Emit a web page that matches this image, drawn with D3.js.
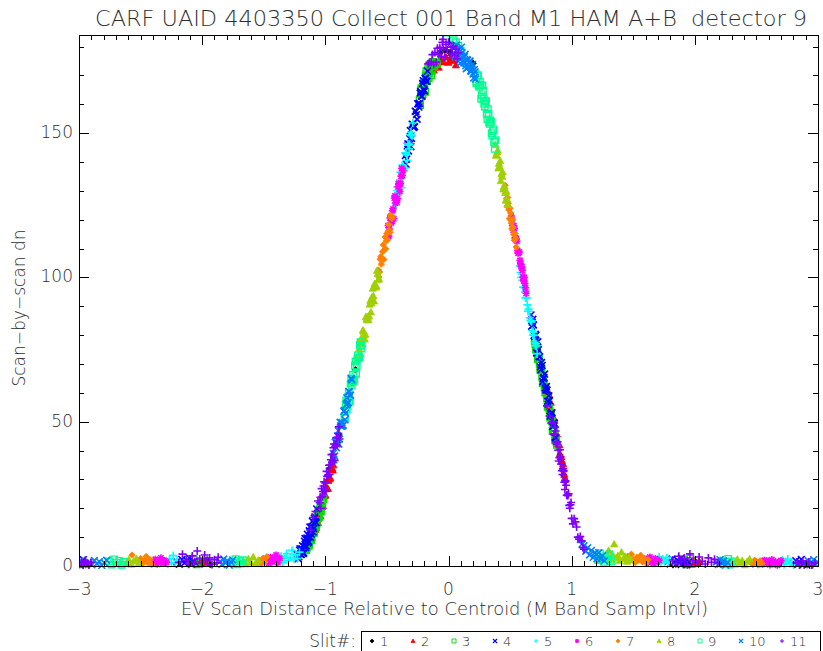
<!DOCTYPE html>
<html><head><meta charset="utf-8">
<script src="https://cdn.jsdelivr.net/npm/d3@7"></script>
<style>
body{margin:0;background:#fff}
svg{display:block}
text{font-family:"DejaVu Sans","Liberation Sans",sans-serif;font-weight:200;fill:#2e2e2e}
</style>
</head><body>
<svg id="chart" width="823" height="651"></svg>
<script>
// ---- text ----
const titleText = "CARF UAID 4403350 Collect 001 Band M1 HAM A+B  detector 9";
const xTitle = "EV Scan Distance Relative to Centroid (M Band Samp Intvl)";
const yTitle = "Scan\u2212by\u2212scan dn";
const legendTitle = "Slit#:";

// ---- axes ----
const xDomain = [-3, 3];
const yDomain = [0, 184];
const xTicks = [-3, -2, -1, 0, 1, 2, 3];
const yTicks = [0, 50, 100, 150];

// ---- per-slit samples: [distance, dn] ----
const slitIds = [1, 2, 3, 4, 5, 6, 7, 8, 9, 10, 11];

const slit01 = [[-1.99,1.0],[-1.96,2.2],[-1.935,0.5],
  [-0.965,33.8],[-0.94,36.5],[-0.915,42],[-0.89,45.5],[-0.785,63.5],[-0.755,68],
  [-0.07,177.8],[-0.03,178.7],[0.01,178.0],[0.20,174.2],[0.905,38.5],[0.935,31.5],
  [2.005,1.3],[2.03,0.6]];

const slit02 = [[-2.045,1.5],[-2.02,0.7],[-1.995,2.1],[-1.97,1.2],
  [-1.085,14],[-1.075,14.4],[-1.065,16.8],[-1.055,16.7],[-1.045,19.1],[-1.035,20],[-1.025,20.6],[-1.015,24.2],
  [-1.005,24.3],[-0.995,26.9],[-0.985,27],[-0.975,29.6],[-0.965,30.2],[-0.955,33.3],[-0.945,33.9],[-0.935,35],
  [-1.08,12.7],[-1.07,16.1],[-1.06,15],[-1.05,18.4],[-1.04,17.3],[-1.03,20.8],[-1.02,20.9],[-1.01,25],
  [-1.00,24.6],[-0.99,27.2],[-0.98,26.8],[-0.97,30.9],[-0.96,30.5],[-0.95,33.6],[-0.94,33.2],
  [-0.14,171.6],[-0.12,171.8],[-0.10,173.5],[-0.08,172.8],[-0.06,175.6],[-0.04,174.6],[-0.02,176.3],[0.00,174.5],
  [0.02,175.8],[0.04,175.1],[0.06,173.6],
  [0.80,61],[0.81,60.4],[0.82,56.8],[0.83,56.7],[0.84,53.1],[0.85,51.5],[0.86,50.4],[0.87,46.3],[0.88,45.7],
  [0.89,42.6],[0.90,42],[0.91,37.8],[0.92,36.6],[0.93,35.4],[0.94,31.7],[0.95,30],
  [0.805,60.1],[0.815,59.5],[0.825,54.9],[0.835,54.2],[0.845,51.3],[0.855,51.2],[0.865,46.1],[0.875,45.8],
  [0.885,42.5],[0.895,41.9],[0.905,38.8],[0.915,37.9],[0.925,34.2],[0.935,33.6],[0.945,30.5],
  [1.955,1.4],[1.975,0.6],[1.995,2.0],[2.015,1.1],[2.035,1.7]];

const slit03 = [[-2.095,1.1],[-2.07,2.4],[-2.045,0.6],[-2.02,1.8],
  [-1.165,5.6],[-1.155,5.4],[-1.145,7.7],[-1.135,7],[-1.125,9.2],[-1.115,8.9],[-1.105,11.6],[-1.095,11.8],
  [-1.085,13.5],[-1.075,13.4],[-1.065,16.8],[-1.055,16.7],[-1.045,19.6],[-1.035,19],[-1.025,22.1],[-1.015,23.2],
  [-1.16,6],[-1.15,6.3],[-1.14,8.5],[-1.13,7.5],[-1.12,10],[-1.11,10],[-1.10,12.5],[-1.09,11.5],
  [-1.08,14.2],[-1.07,14.8],[-1.06,17.8],[-1.05,17.2],[-1.04,20.2],[-1.03,20.8],[-1.02,23.8],
  [-0.235,161.4],[-0.225,164.8],[-0.215,163.2],[-0.205,167.1],[-0.195,166.5],[-0.185,170],[-0.175,168],
  [-0.165,172.5],[-0.155,171],[-0.145,174],[-0.135,171.6],[-0.125,174.7],[-0.115,173.3],[-0.105,176.4],[-0.095,174],
  [-0.23,159.7],[-0.22,165.6],[-0.21,163.5],[-0.20,167.4],[-0.19,164.3],[-0.18,171.5],[-0.17,169.5],
  [-0.16,169],[-0.15,173.5],[-0.14,170],[-0.13,174.3],[-0.12,173.4],[-0.11,176.5],[-0.10,174.1],
  [0.70,78],[0.71,75],[0.72,74.5],[0.73,72.5],[0.74,70],[0.75,68.5],[0.76,65.5],[0.77,65],[0.78,62],[0.79,61.5],
  [0.80,58],[0.81,57],[0.82,54],[0.83,53],[0.84,50],[0.85,48],[0.86,46.5],[0.87,44.5],[0.88,42],
  [0.705,76.8],[0.715,76.3],[0.725,71.7],[0.735,71.6],[0.745,68],[0.755,68],[0.765,63.4],[0.775,63.3],
  [0.785,60.2],[0.795,59.7],[0.805,55.1],[0.815,55],[0.825,51.4],[0.835,51.4],[0.845,46.8],[0.855,46.7],
  [0.865,43.6],[0.875,43.1],
  [1.885,1.3],[1.905,2.2],[1.925,0.6],[1.945,1.8],[1.965,2.6],[1.985,1.0]];

const slit04 = [[-2.995,0.4],[-2.98,1.5],[-2.965,2.2],[-2.95,0.8],
  [-2.205,1.4],[-2.185,0.6],[-2.165,2.3],[-2.145,1.0],[-2.125,1.9],[-2.105,2.8],[-2.085,0.7],[-2.065,1.6],
  [-1.23,4],[-1.22,2.5],[-1.21,5.5],[-1.20,4],[-1.19,6],[-1.18,4.3],[-1.17,8.6],[-1.16,6.4],[-1.15,9.7],[-1.14,8],
  [-1.13,12.2],[-1.12,9.9],[-1.11,13.6],[-1.10,11.8],[-1.09,16.5],[-1.08,15.4],[-1.07,19.8],
  [-1.225,4],[-1.215,3.2],[-1.205,6],[-1.195,4],[-1.185,7],[-1.175,4.5],[-1.165,9.5],[-1.155,7],
  [-1.145,11],[-1.135,8.5],[-1.125,13.5],[-1.115,11],[-1.105,15.5],[-1.095,13],[-1.085,17],[-1.075,15],
  [-0.35,142.2],[-0.34,141],[-0.33,146.3],[-0.32,145.6],[-0.31,150.9],[-0.30,148.2],[-0.29,153],[-0.28,152.3],
  [-0.27,157.6],[-0.26,156.4],[-0.25,160.2],[-0.24,159],[-0.23,163.9],[-0.22,162.8],[-0.21,167.2],[-0.20,165.1],
  [-0.19,169],[-0.18,168],[-0.17,171.5],
  [-0.345,139.2],[-0.335,145.5],[-0.325,143.8],[-0.315,148.1],[-0.305,145.3],[-0.295,153.1],[-0.285,151.9],
  [-0.275,152.2],[-0.265,157.5],[-0.255,154.8],[-0.245,160.1],[-0.235,160.3],[-0.225,164.4],[-0.215,162.8],
  [-0.205,168.2],[-0.195,164.6],[-0.185,169],[-0.175,168],
  [0.67,87],[0.68,84.5],[0.69,83.5],[0.70,79.5],[0.71,80],[0.72,74],[0.73,75],[0.74,72.5],[0.75,68],[0.76,69.5],
  [0.77,65],[0.78,66.5],[0.79,61],[0.80,61],[0.81,56],[0.82,57.3],[0.83,52.7],[0.84,53.1],[0.85,48.5],[0.86,49.4],[0.87,44.3],
  [0.675,83.1],[0.685,85.5],[0.695,79.9],[0.705,80.3],[0.715,73.8],[0.725,77.7],[0.735,72.6],[0.745,69],
  [0.755,70.5],[0.765,63.9],[0.775,65.3],[0.785,61.7],[0.795,62.2],[0.805,57.1],[0.815,59],[0.825,51.9],
  [0.835,52.9],[0.845,48.3],[0.855,49.7],[0.865,44.6],
  [1.785,1.6],[1.80,0.7],[1.815,2.4],[1.83,1.3],[1.845,0.5],[1.86,2.0],[1.875,1.1],[1.89,2.8],[1.905,0.9],[1.92,1.7],
  [1.935,0.4],[1.95,1.4],
  [2.805,0.9],[2.82,1.8],[2.835,0.5],[2.85,1.4],[2.865,2.3],[2.88,0.7],[2.895,1.2],[2.91,0.3]];

const slit05 = [[-2.295,1.6],[-2.28,0.7],[-2.265,2.5],[-2.25,1.2],[-2.235,3.6],[-2.22,0.9],[-2.205,2.0],
  [-1.375,2.0],[-1.36,3.4],[-1.345,1.1],[-1.33,2.7],[-1.315,4.3],[-1.30,1.8],[-1.285,3.0],[-1.27,5.4],[-1.255,2.3],
  [-1.24,3.9],[-1.225,2.6],[-1.21,4.8],
  [-0.43,125.8],[-0.42,130.1],[-0.41,128.4],[-0.40,133.2],[-0.39,136.5],[-0.38,134.3],[-0.37,138.6],[-0.36,136.9],
  [-0.35,143.2],[-0.34,142.5],[-0.33,146.3],[-0.32,144.6],[-0.31,149.4],[-0.30,149.2],[-0.29,153.5],
  [-0.425,125],[-0.415,131.3],[-0.405,129.5],[-0.395,133.8],[-0.385,131.1],[-0.375,138.9],[-0.365,137.7],
  [-0.355,137.9],[-0.345,143.2],[-0.335,140.5],[-0.325,145.8],[-0.315,146.1],[-0.305,150.3],[-0.295,149.1],
  [0.58,104],[0.59,100],[0.60,99],[0.61,96.5],[0.62,95],[0.63,93],[0.64,90.5],[0.65,89],[0.66,86],[0.67,85],
  [0.68,81.5],[0.69,81],[0.70,77.5],[0.71,77],[0.72,73.5],
  [0.585,101.7],[0.595,101.2],[0.605,96.6],[0.615,96.5],[0.625,92.9],[0.635,92.9],[0.645,88.3],[0.655,88.2],
  [0.665,85.1],[0.675,84.6],[0.685,80],[0.695,79.9],[0.705,76.3],[0.715,76.3],
  [1.695,1.8],[1.71,3.2],[1.725,0.9],[1.74,2.4],[1.755,1.5],[1.77,2.9],[1.785,1.1],[1.80,2.0],
  [2.695,1.1],[2.71,2.0],[2.725,0.5],[2.74,1.6],[2.755,2.4],[2.77,0.8],[2.785,1.3],[2.80,0.4]];

const slit06 = [[-2.395,1.0],[-2.38,2.3],[-2.365,0.6],[-2.35,1.6],[-2.335,2.8],[-2.32,0.9],[-2.305,1.9],[-2.29,1.3],
  [-1.475,2.1],[-1.46,0.9],[-1.445,3.0],[-1.43,1.5],[-1.415,2.5],[-1.40,3.8],[-1.385,1.2],[-1.37,2.7],
  [-0.49,118],[-0.48,116.8],[-0.47,121.1],[-0.46,119.4],[-0.45,123.7],[-0.44,127.5],[-0.43,125.8],[-0.42,126.1],
  [-0.41,131.4],[-0.40,132.2],[-0.39,132.5],[-0.38,137.8],[-0.37,137.1],
  [-0.485,114.3],[-0.475,120.6],[-0.465,118.9],[-0.455,123.1],[-0.445,120.4],[-0.435,128.2],[-0.425,127],
  [-0.415,127.3],[-0.405,132.5],[-0.395,129.8],[-0.385,135.1],[-0.375,135.4],
  [0.51,121.3],[0.52,117.9],[0.53,117.9],[0.54,113.7],[0.55,113.5],[0.56,109.3],[0.57,108.6],[0.58,105.9],
  [0.59,103.7],[0.60,102.5],[0.61,98.8],[0.62,98],[0.63,94.5],
  [0.515,119.9],[0.525,116.4],[0.535,116.9],[0.545,113],[0.555,112.5],[0.565,108.4],[0.575,108.8],
  [0.585,104.7],[0.595,103.7],[0.605,100.1],[0.615,100],[0.625,96.4],
  [1.605,2.4],[1.62,1.2],[1.635,3.1],[1.65,1.7],[1.665,0.8],[1.68,2.6],[1.695,1.4],[1.71,2.0],
  [2.535,1.3],[2.55,0.6],[2.565,2.0],[2.58,1.1],[2.595,1.7],[2.61,0.4],[2.625,2.2],[2.64,0.9],[2.655,1.5],
  [2.67,0.3],[2.685,1.2],[2.70,1.9]];

const slit07 = [[-2.515,1.4],[-2.50,2.6],[-2.485,0.7],[-2.47,1.9],[-2.455,3.3],[-2.44,1.1],[-2.425,2.3],[-2.41,0.5],
  [-2.57,3.8],
  [-1.535,1.9],[-1.52,0.8],[-1.505,2.7],[-1.49,1.4],[-1.475,3.2],
  [-0.57,102.6],[-0.56,101.9],[-0.55,107.2],[-0.54,106.5],[-0.53,111.3],[-0.52,109.6],[-0.51,109.9],[-0.50,115.2],
  [-0.49,116],[-0.48,116.3],[-0.47,121.6],[-0.46,120.4],
  [-0.565,100.1],[-0.555,106.3],[-0.545,104.6],[-0.535,108.9],[-0.525,106.2],[-0.515,114],[-0.505,112.7],
  [-0.495,113],[-0.485,118.3],[-0.475,115.6],[-0.465,120.9],[-0.455,121.1],
  [0.46,131.9],[0.47,127.3],[0.48,127.7],[0.49,123.4],[0.50,124],[0.51,118.8],[0.52,120.1],[0.53,114.9],
  [0.54,115.2],[0.55,110.5],
  [0.465,129.2],[0.475,124.7],[0.485,125.7],[0.495,120.3],[0.505,122.3],[0.515,116.9],[0.525,117.4],
  [0.535,112.9],[0.545,113.5],
  [1.455,3.4],[1.47,1.8],[1.485,4.1],[1.50,2.3],[1.515,1.2],[1.53,3.0],[1.545,2.0],[1.56,3.7],[1.575,1.4],
  [1.59,2.6],[1.605,1.0],[1.62,2.2],
  [2.455,1.2],[2.47,0.5],[2.485,2.0],[2.50,1.5],[2.515,0.3],[2.53,1.8],[2.545,0.9]];

const slit08 = [[-2.615,1.1],[-2.595,2.2],[-2.575,0.6],[-2.555,1.7],[-2.535,2.6],[-2.515,0.9],
  [-1.665,1.8],[-1.645,0.7],[-1.625,2.5],[-1.605,1.3],[-1.585,3.1],[-1.565,1.0],[-1.545,2.0],
  [-0.725,75.3],[-0.715,73.6],[-0.705,77.9],[-0.695,81.7],[-0.685,80],[-0.675,80.3],[-0.665,85.6],[-0.655,86.4],
  [-0.645,86.7],[-0.635,92],[-0.625,91.1],[-0.615,96.2],[-0.605,91.8],[-0.595,97.4],[-0.585,97],[-0.575,101.3],[-0.565,99.6],
  [-0.72,72.5],[-0.71,78.8],[-0.70,77],[-0.69,81.3],[-0.68,78.6],[-0.67,86.4],[-0.66,85.2],[-0.65,85.4],
  [-0.64,90.7],[-0.63,88],[-0.62,93.3],[-0.61,93.6],[-0.60,97.8],[-0.59,96.6],[-0.58,102.4],[-0.57,99.2],
  [0.38,146],[0.39,142.5],[0.40,144],[0.41,139.5],[0.42,140.4],[0.43,135.9],[0.44,136.5],[0.45,131.5],
  [0.46,129.4],[0.47,129.8],[0.48,125.2],
  [0.385,142.3],[0.395,143.4],[0.405,137.9],[0.415,138.5],[0.425,133.5],[0.435,135],[0.445,130.6],
  [0.455,131.6],[0.465,126.7],[0.475,127.2],
  [1.285,3.1],[1.30,5.4],[1.315,2.2],[1.33,4.0],[1.345,7.6],[1.36,2.8],[1.375,3.6],[1.39,1.9],[1.405,4.8],
  [1.42,2.5],[1.435,3.3],[1.45,1.6],[1.465,2.9],[1.48,2.1],
  [2.305,1.5],[2.325,0.6],[2.345,2.3],[2.365,1.2],[2.385,1.9],[2.405,0.4],[2.425,1.6],[2.445,2.4]];

const slit09 = [[-2.755,1.6],[-2.735,0.5],[-2.715,2.3],[-2.695,1.1],[-2.675,1.8],[-2.655,0.4],[-2.635,1.4],
  [-1.745,1.2],[-1.73,2.4],[-1.715,0.6],[-1.70,1.7],[-1.685,0.9],[-1.67,2.0],
  [-0.845,51.4],[-0.835,56],[-0.825,54.3],[-0.815,58.6],[-0.805,56.9],[-0.795,63.2],[-0.785,62.5],[-0.775,66.3],
  [-0.765,64.6],[-0.755,70.9],[-0.745,69.2],[-0.735,73],[-0.725,72.3],[-0.715,77.6],[-0.705,76.4],
  [-0.84,51.2],[-0.83,57.4],[-0.82,55.7],[-0.81,60],[-0.80,57.2],[-0.79,65],[-0.78,63.8],[-0.77,64.1],
  [-0.76,69.4],[-0.75,66.6],[-0.74,71.9],[-0.73,72.2],[-0.72,76.5],[-0.71,75.3],
  [-0.02,182.6],[0.04,182.2],[0.06,181.5],[0.08,180.3],[0.10,178.6],
  [0.22,170.7],[0.23,167.8],[0.24,170],[0.25,166],[0.26,166.6],[0.27,163.2],[0.28,164.8],[0.29,160.1],[0.30,161],
  [0.31,156.7],[0.32,158.3],[0.33,153.6],[0.34,154.3],[0.35,150],[0.36,150.7],[0.37,147],[0.38,147.6],
  [0.225,167.3],[0.235,170],[0.245,166.5],[0.255,167.8],[0.265,161.9],[0.275,166.5],[0.285,162.1],
  [0.295,159.2],[0.305,161.1],[0.315,154.8],[0.325,156.5],[0.335,153.2],[0.345,153.9],[0.355,149.1],
  [0.365,151.3],[0.375,144.5],
  [1.20,3.6],[1.215,2.0],[1.23,4.4],[1.245,2.6],[1.26,1.4],[1.275,3.3],[1.29,2.2],[1.305,4.0],[1.32,1.6],
  [2.225,1.9],[2.24,0.7],[2.255,1.4],[2.27,2.5],[2.285,0.5],[2.30,1.6]];

const slit10 = [[-2.99,1.7],[-2.97,0.5],[-2.915,1.3],[-2.895,0.4],[-2.875,1.9],[-2.855,0.8],[-2.835,1.5],[-2.815,0.2],
  [-2.795,1.1],[-2.775,2.0],
  [-1.855,1.6],[-1.84,0.5],[-1.825,2.4],[-1.81,1.0],[-1.795,1.8],[-1.78,0.3],[-1.765,1.3],[-1.752,2.1],
  [-0.935,39],[-0.925,38.1],[-0.915,43.2],[-0.905,42.3],[-0.895,46.9],[-0.885,44],[-0.875,48.6],[-0.865,49.7],
  [-0.855,48.8],[-0.845,53.9],[-0.835,53],[-0.825,58.3],[-0.815,56.6],[-0.805,60.4],[-0.795,59.2],[-0.785,64.5],
  [-0.93,36.8],[-0.92,42.9],[-0.91,41],[-0.90,45.1],[-0.89,42.2],[-0.88,49.8],[-0.87,48.4],[-0.86,48.5],
  [-0.85,53.6],[-0.84,50.7],[-0.83,55.9],[-0.82,56.2],[-0.81,60.5],[-0.80,59.2],[-0.79,65],
  [0.05,180],[0.06,177],[0.07,179.2],[0.08,176.5],[0.09,178.2],[0.10,176],[0.11,177.8],[0.12,175],[0.13,176.5],
  [0.14,173.3],[0.15,175.5],[0.16,172.9],[0.17,174.4],[0.18,171.6],[0.19,172.6],[0.20,170.5],[0.21,172],[0.22,168.7],
  [0.055,176.4],[0.065,180.5],[0.075,176.8],[0.085,179],[0.095,174.2],[0.105,179.8],[0.115,176.2],
  [0.125,174.3],[0.135,177.3],[0.145,172.3],[0.155,175.2],[0.165,173.1],[0.175,175],[0.185,171.4],
  [0.195,173.8],[0.205,169.1],[0.215,171.2],
  [1.07,9.2],[1.085,7.6],[1.10,7.0],[1.115,5.1],[1.13,6.3],[1.145,3.8],[1.16,5.4],[1.175,3.0],[1.19,4.6],
  [1.205,2.5],[1.22,4.6],[1.235,2.4],[1.25,3.6],[1.265,1.8],
  [2.175,1.4],[2.19,0.5],[2.205,2.2],[2.22,0.9],[2.235,1.7],[2.25,0.3],[2.265,1.2],
  [2.905,0.9],[2.92,1.8],[2.935,0.4],[2.95,1.3],[2.965,2.2],[2.98,0.7],[2.995,1.5]];

const slit11 = [[-2.995,0.6],[-2.98,1.4],[-2.965,0.3],[-2.95,1.9],[-2.935,0.9],[-2.92,0.2],[-2.905,1.2],
  [-2.19,1.2],[-2.16,4.1],[-2.13,2.0],[-2.11,0.6],[-2.08,3.5],[-2.06,1.5],[-2.04,5.2],[-2.02,2.4],[-2.0,0.9],
  [-1.98,3.8],[-1.96,1.7],[-1.94,2.8],[-1.92,0.5],[-1.90,2.2],[-1.88,1.1],[-1.87,3.0],
  [-1.12,12.5],[-1.10,16.8],[-1.08,18.9],[-1.06,22.5],
  [-1.045,21.9],[-1.035,20],[-1.025,24.1],[-1.015,27.7],[-1.005,25.8],[-0.995,25.9],[-0.985,31],[-0.975,31.6],
  [-0.965,31.7],[-0.955,36.8],[-0.945,35.9],[-0.935,41],[-0.925,36.6],[-0.915,42.2],[-0.905,41.8],[-0.895,45.9],[-0.885,44],
  [-1.04,23.8],[-1.03,26.8],[-1.02,25.8],[-1.01,29.2],[-1.00,28.8],[-0.99,32.8],[-0.98,31.3],[-0.97,34.9],
  [-0.96,35],[-0.95,38.6],[-0.94,38.7],[-0.93,42.3],[-0.92,41.4],[-0.91,44.5],[-0.90,44.6],[-0.89,48.2],
  [-0.165,174],[-0.155,174.5],[-0.14,174.6],[-0.13,177.2],[-0.12,173.8],[-0.11,177.9],[-0.10,174.5],[-0.09,179.4],
  [-0.08,177.3],[-0.07,179.7],[-0.06,176.6],[-0.05,181.5],[-0.045,182.5],[-0.04,179.1],[-0.03,176.2],[-0.02,180.8],
  [-0.01,178.9],[0.00,181.5],[0.01,176.9],[0.02,179.8],[0.03,177.7],[0.04,180.1],[0.05,177],[0.06,179.1],
  [0.07,175.7],[0.08,177.8],
  [0.80,55.5],[0.82,52],[0.835,49.5],
  [0.85,50],[0.86,45.5],[0.87,46.8],[0.88,42.2],[0.89,40.1],[0.90,37.5],[0.91,37.8],[0.92,33],[0.93,33.8],
  [0.94,29],[0.95,29.5],[0.96,24.5],[0.97,24.4],[0.98,21],[0.99,21.2],[1.00,16.5],[1.02,16.4],[1.04,13.5],
  [1.06,9.3],[1.08,8.7],[1.10,5.8],
  [0.855,45.7],[0.865,48.1],[0.875,42.6],[0.885,43],[0.895,36.4],[0.905,40.3],[0.915,35.3],[0.925,31.7],
  [0.935,33.1],[0.945,26.5],[0.955,28],[0.965,24.5],[0.975,25],[0.985,20],[0.995,22],[1.01,14.6],
  [1.03,15.3],[1.05,10],[1.07,10.2],[1.09,6.4],
  [1.82,2.1],[1.845,0.8],[1.87,3.4],[1.89,1.5],[1.915,2.6],[1.94,0.4],[1.96,4.2],[1.985,1.9],[2.01,1.0],
  [2.035,3.1],[2.06,1.6],[2.085,0.7],[2.11,2.8],[2.135,1.3],[2.16,2.3],[2.185,0.9],
  [2.825,1.1],[2.85,0.3],[2.875,1.8],[2.9,0.7],[2.925,1.4],[2.95,0.2],[2.975,1.0]];

const slitData = [slit01, slit02, slit03, slit04, slit05, slit06, slit07, slit08, slit09, slit10, slit11];

// ---- styling ----
const slitColors = ["#000000","#ff0000","#00e000","#0000ff","#00ffff","#ff00ff",
                    "#ff8000","#a0d000","#00ff90","#0080ff","#8000ff"];
const slitShapes = ["diamond","triangle","square","cross","plus","star",
                    "diamond","triangle","square","cross","plus"];

const W = 823, H = 651;
const margin = {left: 79, right: 5, top: 35, bottom: 85};
const svg = d3.select("#chart");

const x = d3.scaleLinear().domain(xDomain).range([margin.left, W - margin.right]);
const y = d3.scaleLinear().domain(yDomain).range([H - margin.bottom, margin.top]);

// marker geometry, centred on the origin
function markerPath(shape, r) {
  switch (shape) {
    case "plus":  return `M${-r},0H${r}M0,${-r}V${r}`;
    case "cross": return `M${-r},${-r}L${r},${r}M${-r},${r}L${r},${-r}`;
    case "square": return `M${-r},${-r}H${r}V${r}H${-r}Z`;
    case "triangle": return `M0,${-r}L${r},${r*0.8}H${-r}Z`;
    case "diamond": return `M0,${-r}L${r},0L0,${r}L${-r},0Z`;
    case "star": return `M${-r},0H${r}M0,${-r}V${r}M${-r*0.75},${-r*0.75}L${r*0.75},${r*0.75}M${-r*0.75},${r*0.75}L${r*0.75},${-r*0.75}`;
  }
}
function styleMarker(sel, shape, color, w) {
  const sw = w || 1.6;
  if (shape === "plus" || shape === "cross" || shape === "star") {
    sel.attr("fill", "none").attr("stroke", color).attr("stroke-width", sw);
  } else if (shape === "square") {
    sel.attr("fill", "none").attr("stroke", color).attr("stroke-width", sw * 0.85);
  } else {
    sel.attr("fill", color).attr("stroke", color).attr("stroke-width", 0.8);
  }
}
const markerR = {plus: 4, cross: 3.4, square: 3.2, triangle: 3.6, diamond: 3.2, star: 3.6};

// clip the scatter to the plot frame
svg.append("clipPath").attr("id", "plotClip").append("rect")
  .attr("x", margin.left).attr("y", margin.top - 3)
  .attr("width", W - margin.right - margin.left).attr("height", H - margin.bottom - margin.top + 6);

const plot = svg.append("g").attr("clip-path", "url(#plotClip)");
slitData.forEach((pts, i) => {
  const shape = slitShapes[i];
  const g = plot.append("g").attr("class", "slit-" + slitIds[i]);
  g.selectAll("path").data(pts).join("path")
    .attr("transform", d => `translate(${x(d[0]).toFixed(2)},${y(d[1]).toFixed(2)})`)
    .attr("d", markerPath(shape, markerR[shape]))
    .call(styleMarker, shape, slitColors[i]);
});

// ---- axes (ticks point inward on all four sides) ----
const xMinor = d3.range(-30, 31).map(v => v / 10);
const yMinor = d3.range(0, 181, 10);
const frame = svg.append("g").attr("stroke", "#000").attr("fill", "none").attr("stroke-width", 1);
const x0 = margin.left, x1 = W - margin.right, yb = H - margin.bottom, yt = margin.top;

frame.append("path").attr("d", `M${x0},${yt}H${x1}V${yb}H${x0}Z`).attr("shape-rendering", "crispEdges");

const axesG = svg.append("g");
axesG.append("g").attr("transform", `translate(0,${yb})`).call(d3.axisBottom(x).tickValues(xMinor).tickSize(-5).tickFormat(""));
axesG.append("g").attr("transform", `translate(0,${yt})`).call(d3.axisTop(x).tickValues(xMinor).tickSize(-5).tickFormat(""));
axesG.append("g").attr("transform", `translate(${x0},0)`).call(d3.axisLeft(y).tickValues(yMinor).tickSize(-5).tickFormat(""));
axesG.append("g").attr("transform", `translate(${x1},0)`).call(d3.axisRight(y).tickValues(yMinor).tickSize(-5).tickFormat(""));
axesG.append("g").attr("transform", `translate(0,${yb})`).call(d3.axisBottom(x).tickValues(xTicks).tickSize(-10).tickFormat(""));
axesG.append("g").attr("transform", `translate(0,${yt})`).call(d3.axisTop(x).tickValues(xTicks).tickSize(-10).tickFormat(""));
axesG.append("g").attr("transform", `translate(${x0},0)`).call(d3.axisLeft(y).tickValues(yTicks).tickSize(-10).tickFormat(""));
axesG.append("g").attr("transform", `translate(${x1},0)`).call(d3.axisRight(y).tickValues(yTicks).tickSize(-10).tickFormat(""));
axesG.selectAll(".domain").remove();
axesG.selectAll(".tick line").attr("stroke", "#000").attr("shape-rendering", "crispEdges");

const fmt = v => (v < 0 ? "\u2212" + Math.abs(v) : String(v));
svg.append("g").selectAll("text").data(xTicks).join("text")
  .attr("x", d => x(d)).attr("y", yb + 29)
  .attr("text-anchor", "middle").attr("font-size", 17)
  .text(fmt);
svg.append("g").selectAll("text").data(yTicks).join("text")
  .attr("x", x0 - 6).attr("y", d => y(d) + 5)
  .attr("text-anchor", "end").attr("font-size", 17)
  .text(fmt);

// titles
svg.append("text").attr("x", 95).attr("y", 26).attr("font-size", 22)
  .attr("textLength", 712).attr("lengthAdjust", "spacingAndGlyphs")
  .style("white-space", "pre").text(titleText);
svg.append("text").attr("x", 181).attr("y", 615).attr("font-size", 17)
  .attr("textLength", 527).attr("lengthAdjust", "spacingAndGlyphs").text(xTitle);
svg.append("text").attr("transform", "translate(25,308) rotate(-90)")
  .attr("text-anchor", "middle").attr("font-size", 17).text(yTitle);

// ---- legend ----
const legendX = d3.scalePoint().domain(slitIds).range([372, 782]);
const lg = svg.append("g");
lg.append("text").attr("x", 356).attr("y", 647).attr("text-anchor", "end").attr("font-size", 17).text(legendTitle);
lg.append("rect").attr("x", 361.5).attr("y", 631.5).attr("width", 459).attr("height", 30)
  .attr("fill", "none").attr("stroke", "#000").attr("shape-rendering", "crispEdges");
slitIds.forEach((id, i) => {
  const cx = legendX(id);
  lg.append("path").attr("transform", `translate(${cx},641)`)
    .attr("d", markerPath(slitShapes[i], 2))
    .call(styleMarker, slitShapes[i], slitColors[i], 1.1);
  lg.append("text").attr("x", cx + 8).attr("y", 646).attr("font-size", 13).text(id);
});
</script>
</body></html>
